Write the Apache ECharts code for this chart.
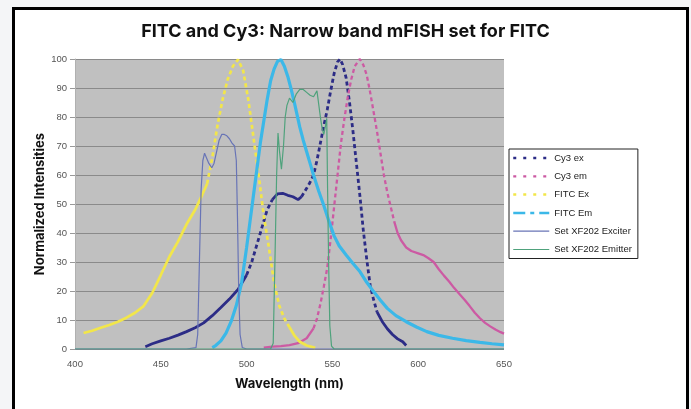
<!DOCTYPE html>
<html><head><meta charset="utf-8">
<script src="https://cdn.jsdelivr.net/npm/echarts@6/dist/echarts.min.js"></script>
<style>
html,body{margin:0;padding:0;background:#f4f5f7;width:691px;height:409px;overflow:hidden}
#frame{position:absolute;left:12px;top:7px;width:671px;height:420px;border:3px solid #000;background:#fff}
#chart{position:absolute;left:0;top:0;width:691px;height:409px}
</style></head><body>
<div id="frame"></div><div id="chart"></div>
<script>
const titleText = 'FITC and Cy3: Narrow band mFISH set for FITC';
const xAxisName = 'Wavelength (nm)';
const yAxisName = 'Normalized Intensities';
const seriesNames = ['Cy3 ex', 'Cy3 em', 'FITC Ex', 'FITC Em', 'Set XF202 Exciter', 'Set XF202 Emitter'];

const cy3Ex = [[441,0.8],[445,1.8],[450,2.8],[455,3.7],[460,4.8],[465,6],[470,7.3],[475,9],[480,11.5],[485,14.3],[490,17.2],[495,20.5],[500,25.5],[503,30],[506,36],[509,42],[512,48],[515,51.5],[518,53.5],[521,53.7],[524,53],[527,52.5],[530,51.5],[532,52.5],[535,55.4],[537,57.5],[539,60],[541,65],[543,71],[545,77],[547,82.5],[549,89],[551,95],[553,99],[554.5,100],[556,98],[558,93.5],[560,85],[562,75],[564,64],[566,53],[568,41],[570,31],[572,22],[574,17],[576,12.8],[579,9.5],[582,7],[585,5],[588,3.5],[591,2.5],[593,1.2]];

const cy3Em = [[510,0.5],[515,0.8],[520,1],[525,1.3],[530,2],[535,3.7],[539,7.1],[541,10.5],[543,15.5],[545,21.5],[547,28],[549,38],[551,49],[553,60],[555,71],[557,79.5],[559,87],[561,93],[563,97.5],[566,100],[568,98],[570,94.5],[572,88.5],[574,81.8],[576,75],[578,67.5],[580,60],[582,54],[584,49],[586,44],[588,40],[590,37.5],[593,35],[596,33.8],[600,33],[603,32.4],[606,31.3],[609,30],[612,27.5],[615,25.3],[618,23.3],[621,21],[624,19],[627,17],[630,14.8],[633,12.5],[636,10.6],[639,9],[642,7.8],[645,6.7],[648,5.8],[650,5.3]];

const fitcEx = [[405,5.5],[410,6.3],[415,7.3],[420,8.3],[425,9.4],[430,10.8],[435,12.5],[440,14.8],[445,19.3],[450,25.5],[455,31.8],[460,37],[465,43],[470,48],[474,53],[477,57],[480,66],[483,77],[486,86],[489,93],[492,97.5],[495,99.8],[498,96],[501,86],[504,73],[507,60],[510,46],[513,35],[516,23],[519,15],[522,10.5],[525,7.5],[528,4.5],[531,2.5],[535,1.2],[540,0.4]];

const fitcEm = [[480,0.5],[482,1.2],[485,2.8],[488,5.5],[491,9.5],[494,15],[497,22.5],[500,35],[502,44],[504,53],[506,62],[508,71],[510,78.5],[512,86],[514,92.5],[516,96.5],[518,99.2],[520,99.8],[522,97.5],[524,94],[526,89.5],[528,84.5],[531,76.5],[533,72],[535,68],[537,64],[539,60],[542,54.5],[545,49.5],[548,44],[551,39],[554,35.5],[558,32.4],[562,29.5],[566,26.7],[570,23],[574,19.8],[578,16.8],[582,14],[587,11.5],[593,9.4],[599,7.6],[605,6],[612,4.7],[620,3.7],[628,2.9],[636,2.3],[643,1.8],[650,1.4]];

const exciter = [[400,0],[465,0],[470.5,0.5],[471.5,5],[472.5,30],[473.5,55],[474.5,65],[475.5,67.5],[476.5,67],[478,64],[479.7,62.5],[481,64],[482.5,68],[484,72],[485.5,74],[487,74],[488.5,73.5],[490,72.5],[491.5,71],[493,70],[494,65],[494.7,45],[495.4,20],[496.2,5],[497.5,0.5],[500,0],[650,0]];

const emitter = [[400,0],[514,0],[515.5,2],[516.5,30],[517.5,60],[518.3,74.5],[519.2,68],[520.3,62],[521.5,70],[522.5,80],[523.5,84],[525,86.5],[527,85],[529,88],[531,89.5],[533,89.5],[535,88.5],[537,87.5],[539,87],[541,89],[542,88.5],[543,80],[544,76],[545,74],[546,77],[546.7,79.5],[547.2,55],[547.8,30],[548.5,8],[549.5,1],[551,0],[650,0]];

// wavelength ranges where the original dashed pattern is visible
const dashRanges = {
  'Cy3 ex': [[500,515],[532,576]],
  'Cy3 em': [[539,586]],
  'FITC Ex': [[477,525]],
  'FITC Em': []
};

const colors = {
  'Cy3 ex': '#2c2c86',
  'Cy3 em': '#cc5aa3',
  'FITC Ex': '#f2e64a',
  'FITC Em': '#3bb8e8',
  'Set XF202 Exciter': '#6874b6',
  'Set XF202 Emitter': '#4fa27c'
};
const widths = {'Cy3 ex':2.8,'Cy3 em':2.3,'FITC Ex':2.7,'FITC Em':3.2,'Set XF202 Exciter':1.2,'Set XF202 Emitter':1.2};
const dataByName = {'Cy3 ex':cy3Ex,'Cy3 em':cy3Em,'FITC Ex':fitcEx,'FITC Em':fitcEm,'Set XF202 Exciter':exciter,'Set XF202 Emitter':emitter};

function splitData(points, ranges) {
  const inR = x => ranges.some(r => x >= r[0] && x <= r[1]);
  const inside = x => ranges.some(r => x > r[0] && x < r[1]);
  return {
    solid: points.map(p => inside(p[0]) ? [p[0], null] : p),
    dashed: points.map(p => inR(p[0]) ? p : [p[0], null])
  };
}

const series = [];
seriesNames.forEach(name => {
  const ranges = dashRanges[name] || [];
  const parts = splitData(dataByName[name], ranges);
  const base = {name, type:'line', showSymbol:false, symbol:'none', connectNulls:false, animation:false, silent:true,
    itemStyle:{color:colors[name]}};
  series.push(Object.assign({}, base, {data: parts.solid, lineStyle:{color:colors[name], width:widths[name], type:'solid'}}));
  if (ranges.length) {
    series.push(Object.assign({}, base, {data: parts.dashed, lineStyle:{color:colors[name], width:widths[name], type:[4,3]}}));
  }
});

const legendDash = {'Cy3 ex':[3,7],'Cy3 em':[3,7],'FITC Ex':[3,7],'FITC Em':[12,5,4,5],'Set XF202 Exciter':'solid','Set XF202 Emitter':'solid'};

const chart = echarts.init(document.getElementById('chart'), null, {renderer:'canvas'});
chart.setOption({
  animation:false,
  title:{text:titleText, left:'center', top:18, textStyle:{fontFamily:'Inter', fontWeight:700, fontSize:18, color:'#111'}},
  grid:{left:75, right:187, top:59, height:290, show:true, backgroundColor:'#c0c0c0', borderWidth:0},
  legend:{
    orient:'vertical', left:509, top:149,
    itemWidth:36, itemHeight:12, itemGap:8.3,
    padding:[4,6,4,3],
    backgroundColor:'#fff', borderColor:'#222', borderWidth:1,
    textStyle:{fontFamily:'Liberation Sans', fontSize:9.5, color:'#222'},
    data: seriesNames.map(n => ({name:n,
      itemStyle:{opacity:0, color:'transparent', borderWidth:0},
      lineStyle:{color:colors[n], width:Math.min(widths[n],2.5), type:legendDash[n], opacity:1}})),
    selectedMode:false
  },
  xAxis:{type:'value', min:400, max:650, interval:50,
    name:xAxisName, nameLocation:'middle', nameGap:29, nameMoveOverlap:false,
    nameTextStyle:{fontFamily:'Inter', fontWeight:700, fontSize:13, color:'#111'},
    axisLine:{show:false}, axisTick:{show:false}, splitLine:{show:false},
    axisLabel:{color:'#555', fontSize:9.5, fontFamily:'Liberation Sans', margin:10}},
  yAxis:{type:'value', min:0, max:100, interval:10,
    name:yAxisName, nameLocation:'middle', nameGap:28, nameRotate:90, nameMoveOverlap:false,
    nameTextStyle:{fontFamily:'Inter', fontWeight:700, fontSize:13, color:'#111'},
    axisLine:{show:true, lineStyle:{color:'#b0b0b0'}},
    axisTick:{show:true, length:5, lineStyle:{color:'#999'}},
    splitLine:{show:true, lineStyle:{color:'#8a8a8a', width:1}},
    axisLabel:{color:'#555', fontSize:9.5, fontFamily:'Liberation Sans', margin:8}},
  series
});
</script></body></html>
